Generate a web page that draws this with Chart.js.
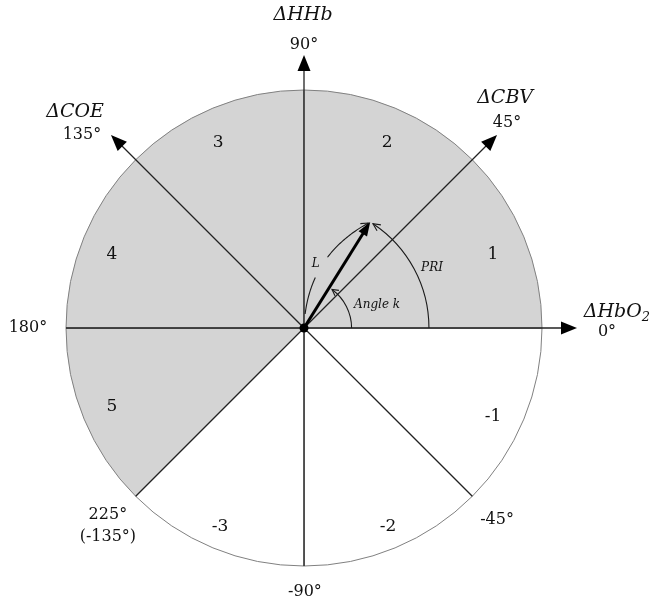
<!DOCTYPE html>
<html>
<head>
<meta charset="utf-8">
<script src="https://cdn.jsdelivr.net/npm/chart.js@4/dist/chart.umd.min.js"></script>
<style>
  html, body { margin: 0; padding: 0; background: #ffffff; }
  canvas { display: block; }
</style>
</head>
<body>
<canvas id="diagram" width="651" height="604"></canvas>
<script>
// Sectors, listed counter-clockwise starting at 0°
const sectorLabels = ['1', '2', '3', '4', '5', '-3', '-2', '-1'];
const sectorShaded = [true, true, true, true, true, false, false, false];
const sectorRadius = [1, 1, 1, 1, 1, 1, 1, 1];

// Direction axes
const axisAngles = [0, 45, 90, 135, 180, 225, 270, 315];
const axisNames = ['ΔHbO', 'ΔCBV', 'ΔHHb', 'ΔCOE', '', '', '', ''];
const axisNameSub = ['2', '', '', '', '', '', '', ''];
const axisDegrees = [['0°'], ['45°'], ['90°'], ['135°'], ['180°'], ['225°', '(-135°)'], ['-90°'], ['-45°']];
const axisHasArrow = [true, true, true, true, false, false, false, false];

// Response vector: angle k (degrees) and magnitude L (fraction of radius)
const vectorAngleK = 58;
const vectorLengthL = 0.525;

// ---- layout (offsets in units of the circle radius, y upward) ----
const arrowReach = 1.147;
const sectorLabelPos = [[0.794, 0.307], [0.349, 0.777], [-0.361, 0.777], [-0.807, 0.307],
                        [-0.807, -0.332], [-0.353, -0.836], [0.353, -0.836], [0.794, -0.374]];
const axisNamePos = [[1.315, 0.067], [0.845, 0.966], [-0.004, 1.315], [-0.962, 0.908]];
const axisDegreePos = [[1.273, -0.017], [0.853, 0.861], [0, 1.189], [-0.933, 0.811],
                       [-1.16, 0], [-0.824, -0.832], [0.004, -1.109], [0.811, -0.807]];
const priLabelPos = [0.538, 0.252];
const kLabelPos = [0.307, 0.097];

const SERIF = '"DejaVu Serif", "Liberation Serif", serif';
const INK = '#111111';

// Chart.js lays arcs clockwise from the start angle, so feed the sectors in reverse
const order = sectorLabels.map((_, i) => i).reverse();

const rad = d => d * Math.PI / 180;

function filledHead(ctx, x, y, dir, len, hw) {
  const c = Math.cos(dir), s = Math.sin(dir);
  ctx.beginPath();
  ctx.moveTo(x, y);
  ctx.lineTo(x - len * c - hw * s, y - len * s + hw * c);
  ctx.lineTo(x - len * c + hw * s, y - len * s - hw * c);
  ctx.closePath();
  ctx.fill();
}

function openHead(ctx, x, y, dir, len, spread) {
  ctx.beginPath();
  ctx.moveTo(x - len * Math.cos(dir - spread), y - len * Math.sin(dir - spread));
  ctx.lineTo(x, y);
  ctx.lineTo(x - len * Math.cos(dir + spread), y - len * Math.sin(dir + spread));
  ctx.stroke();
}

const overlay = {
  id: 'overlay',
  afterDatasetsDraw(chart) {
    const s = chart.scales.r;
    const ctx = chart.ctx;
    const cx = s.xCenter, cy = s.yCenter;
    const R = s.getDistanceFromCenterForValue(1);
    const pt = (deg, f) => [cx + Math.cos(rad(deg)) * f * R, cy - Math.sin(rad(deg)) * f * R];
    const off = (p) => [cx + p[0] * R, cy - p[1] * R];

    ctx.save();

    // axes
    ctx.strokeStyle = '#222';
    ctx.fillStyle = '#000';
    ctx.lineWidth = 1.3;
    axisAngles.forEach((a, i) => {
      const headLen = 16;
      const reach = axisHasArrow[i] ? arrowReach : 1;
      const end = pt(a, reach - (axisHasArrow[i] ? headLen * 0.6 / R : 0));
      ctx.beginPath();
      ctx.moveTo(cx, cy);
      ctx.lineTo(end[0], end[1]);
      ctx.stroke();
      if (axisHasArrow[i]) {
        const tip = pt(a, reach);
        filledHead(ctx, tip[0], tip[1], -rad(a), headLen, 6.5);
      }
    });

    // PRI arc (radius = L, from 0° up to the vector)
    const rL = vectorLengthL * R;
    const tip = pt(vectorAngleK, vectorLengthL);
    ctx.strokeStyle = '#1a1a1a';
    ctx.lineWidth = 1.1;
    const priEnd = vectorAngleK - 1.5;
    ctx.beginPath();
    ctx.arc(cx, cy, rL, 0, -rad(priEnd), true);
    ctx.stroke();
    {
      const e = pt(priEnd, vectorLengthL);
      openHead(ctx, e[0], e[1], -rad(priEnd + 90), 8, 0.45);
    }

    // angle k arc
    const rK = 0.2 * R;
    const kEnd = vectorAngleK - 4;
    ctx.beginPath();
    ctx.arc(cx, cy, rK, 0, -rad(kEnd), true);
    ctx.stroke();
    {
      const e = pt(kEnd, 0.2);
      openHead(ctx, e[0], e[1], -rad(kEnd + 90), 7, 0.5);
    }

    // L arc: bows to the left of the vector, broken around its label
    const ux = Math.cos(rad(vectorAngleK)), uy = -Math.sin(rad(vectorAngleK));
    const nx = Math.cos(rad(vectorAngleK + 90)), ny = -Math.sin(rad(vectorAngleK + 90));
    const bow = 18;
    const lp = t => [cx + ux * rL * t + nx * 4 * bow * t * (1 - t),
                     cy + uy * rL * t + ny * 4 * bow * t * (1 - t)];
    const piece = (t0, t1) => {
      ctx.beginPath();
      for (let k = 0; k <= 30; k++) {
        const p = lp(t0 + (t1 - t0) * k / 30);
        if (k === 0) ctx.moveTo(p[0], p[1]); else ctx.lineTo(p[0], p[1]);
      }
      ctx.stroke();
    };
    piece(0.1, 0.39);
    piece(0.58, 0.985);
    {
      const a = lp(0.94), b = lp(0.985);
      openHead(ctx, b[0], b[1], Math.atan2(b[1] - a[1], b[0] - a[0]), 8, 0.45);
    }

    // response vector
    ctx.strokeStyle = '#000';
    ctx.lineWidth = 3;
    const vEnd = pt(vectorAngleK, vectorLengthL - 10 / R);
    ctx.beginPath();
    ctx.moveTo(cx, cy);
    ctx.lineTo(vEnd[0], vEnd[1]);
    ctx.stroke();
    filledHead(ctx, tip[0], tip[1], -rad(vectorAngleK), 14, 5);

    // origin dot
    ctx.beginPath();
    ctx.arc(cx, cy, 4.5, 0, Math.PI * 2);
    ctx.fill();

    // labels
    ctx.fillStyle = INK;
    ctx.textAlign = 'center';
    ctx.textBaseline = 'middle';

    ctx.font = '17px ' + SERIF;
    sectorLabels.forEach((t, i) => {
      const p = off(sectorLabelPos[i]);
      ctx.fillText(t, p[0], p[1]);
    });

    ctx.font = '16px ' + SERIF;
    axisDegrees.forEach((lines, i) => {
      const p = off(axisDegreePos[i]);
      const gap = 22;
      lines.forEach((t, j) => {
        ctx.fillText(t, p[0], p[1] + (j - (lines.length - 1) / 2) * gap);
      });
    });

    axisNames.forEach((t, i) => {
      if (!t) return;
      const p = off(axisNamePos[i]);
      ctx.font = 'italic 19px ' + SERIF;
      const w = ctx.measureText(t).width;
      let sw = 0;
      if (axisNameSub[i]) {
        ctx.font = 'italic 13px ' + SERIF;
        sw = ctx.measureText(axisNameSub[i]).width;
      }
      const x0 = p[0] - (w + sw) / 2;
      ctx.textAlign = 'left';
      ctx.font = 'italic 19px ' + SERIF;
      ctx.fillText(t, x0, p[1]);
      if (sw) {
        ctx.font = 'italic 13px ' + SERIF;
        ctx.fillText(axisNameSub[i], x0 + w, p[1] + 6);
      }
      ctx.textAlign = 'center';
    });

    ctx.font = 'italic 12px ' + SERIF;
    const lLab = lp(0.485);
    ctx.fillText('L', lLab[0] + nx * 6, lLab[1] + ny * 6);
    const priLab = off(priLabelPos);
    ctx.fillText('PRI', priLab[0], priLab[1]);
    const kLab = off(kLabelPos);
    ctx.fillText('Angle k', kLab[0], kLab[1]);

    ctx.restore();
  }
};

new Chart(document.getElementById('diagram'), {
  type: 'polarArea',
  data: {
    labels: order.map(i => sectorLabels[i]),
    datasets: [{
      data: order.map(i => sectorRadius[i]),
      backgroundColor: order.map(i => sectorShaded[i] ? '#d4d4d4' : '#ffffff'),
      borderColor: '#808080',
      borderWidth: 1
    }]
  },
  options: {
    responsive: false,
    animation: false,
    layout: { padding: { left: 66, right: 109, top: 90, bottom: 38 } },
    plugins: { legend: { display: false }, tooltip: { enabled: false } },
    scales: {
      r: {
        min: 0,
        max: 1,
        startAngle: 90,
        grid: { display: false },
        angleLines: { display: false },
        ticks: { display: false },
        pointLabels: { display: false }
      }
    }
  },
  plugins: [overlay]
});
</script>
</body>
</html>
